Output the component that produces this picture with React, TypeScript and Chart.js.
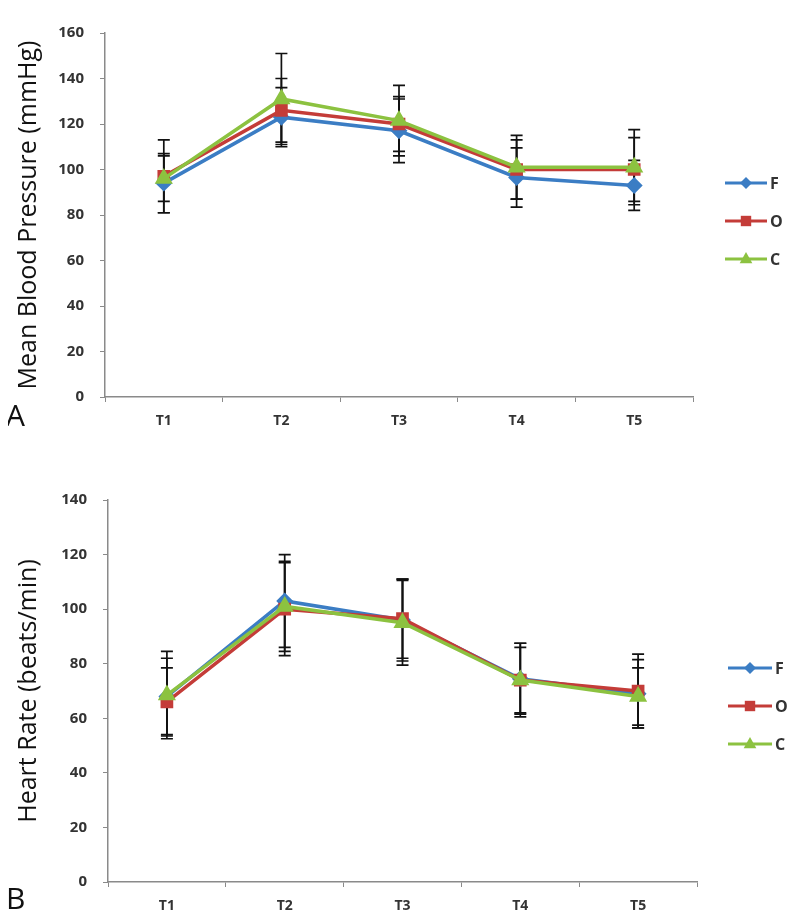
import React, { useEffect, useRef } from 'react';
import { Chart, registerables } from 'chart.js';

Chart.register(...registerables);

// ---------- data ----------
const categories = ['T1', 'T2', 'T3', 'T4', 'T5'];
const seriesNames = ['F', 'O', 'C'];

// Panel A: Mean Blood Pressure (mmHg)
const mbpF = [94, 123, 117, 96.5, 93];
const mbpO = [97, 126, 120, 100, 100];
const mbpC = [96, 131, 121.5, 101, 101];
const mbpFsd = [13, 13, 14, 13, 11];
const mbpOsd = [16, 14, 12, 13, 14];
const mbpCsd = [10, 20, 15.5, 14, 16.5];
const mbpTicks = [0, 20, 40, 60, 80, 100, 120, 140, 160];

// Panel B: Heart Rate (beats/min)
const hrF = [68, 103, 96, 74.5, 69];
const hrO = [66, 100, 96.5, 74, 70];
const hrC = [68.5, 101, 95, 74, 68];
const hrFsd = [14, 17, 15, 13, 12.5];
const hrOsd = [12.5, 17, 14.5, 12, 13.5];
const hrCsd = [16, 16.5, 15.5, 13.5, 10.5];
const hrTicks = [0, 20, 40, 60, 80, 100, 120, 140];

// ---------- styles ----------
const COLORS = ['#3b7dc4', '#c43c38', '#8cc240'];
const POINT_STYLES = ['rectRot', 'rect', 'triangle'];
const POINT_RADII = [6, 6.5, 7];
const AXIS_COLOR = '#8a8a8a';
const TEXT_COLOR = '#333333';
const FONT = "'Open Sans', 'DejaVu Sans', sans-serif";

function drawMarker(ctx: CanvasRenderingContext2D, style: string, x: number, y: number, r: number, color: string) {
  ctx.save();
  ctx.fillStyle = color;
  ctx.beginPath();
  if (style === 'rectRot') {
    ctx.moveTo(x, y - r);
    ctx.lineTo(x + r, y);
    ctx.lineTo(x, y + r);
    ctx.lineTo(x - r, y);
  } else if (style === 'rect') {
    ctx.rect(x - r * 0.8, y - r * 0.8, r * 1.6, r * 1.6);
  } else {
    ctx.moveTo(x, y - r);
    ctx.lineTo(x + r * 0.9, y + r * 0.6);
    ctx.lineTo(x - r * 0.9, y + r * 0.6);
  }
  ctx.closePath();
  ctx.fill();
  ctx.restore();
}

const errorBarPlugin = {
  id: 'errorBars',
  beforeDatasetsDraw(chart: any) {
    const ctx = chart.ctx;
    const yScale = chart.scales.y;
    ctx.save();
    ctx.strokeStyle = '#111111';
    ctx.lineWidth = 1.7;
    chart.data.datasets.forEach((ds: any, i: number) => {
      const meta = chart.getDatasetMeta(i);
      meta.data.forEach((pt: any, j: number) => {
        const v = ds.data[j];
        const e = ds.errors[j];
        const yt = yScale.getPixelForValue(v + e);
        const yb = yScale.getPixelForValue(v - e);
        const x = pt.x;
        ctx.beginPath();
        ctx.moveTo(x, yt);
        ctx.lineTo(x, yb);
        ctx.moveTo(x - 6, yt);
        ctx.lineTo(x + 6, yt);
        ctx.moveTo(x - 6, yb);
        ctx.lineTo(x + 6, yb);
        ctx.stroke();
      });
    });
    ctx.restore();
  },
};

const sideLegendPlugin = {
  id: 'sideLegend',
  afterDraw(chart: any, _args: any, opts: any) {
    const ctx = chart.ctx;
    ctx.save();
    chart.data.datasets.forEach((ds: any, i: number) => {
      const y = opts.y0 + i * opts.gap;
      ctx.strokeStyle = COLORS[i];
      ctx.lineWidth = 3;
      ctx.beginPath();
      ctx.moveTo(opts.x0, y);
      ctx.lineTo(opts.x1, y);
      ctx.stroke();
      drawMarker(ctx, POINT_STYLES[i], (opts.x0 + opts.x1) / 2, y, POINT_RADII[i], COLORS[i]);
      ctx.fillStyle = TEXT_COLOR;
      ctx.font = `bold 16px ${FONT}`;
      ctx.textAlign = 'left';
      ctx.textBaseline = 'middle';
      ctx.fillText(ds.label, opts.x1 + 3, y + 1);
    });
    // panel letter
    ctx.fillStyle = '#111111';
    ctx.font = `30px ${FONT}`;
    ctx.textAlign = 'left';
    ctx.textBaseline = 'middle';
    ctx.fillText(opts.letter, opts.letterX, opts.letterY);
    ctx.restore();
  },
};

function buildConfig(p: {
  F: number[]; O: number[]; C: number[];
  Fsd: number[]; Osd: number[]; Csd: number[];
  yTicks: number[]; title: string;
  yWidth: number; padTop: number; padRight: number; padBottom: number;
  legend: any;
}) {
  const values = [p.F, p.O, p.C];
  const errs = [p.Fsd, p.Osd, p.Csd];
  const datasets = seriesNames.map((name, i) => ({
    label: name,
    data: values[i],
    errors: errs[i],
    borderColor: COLORS[i],
    backgroundColor: COLORS[i],
    pointBackgroundColor: COLORS[i],
    pointBorderColor: COLORS[i],
    pointStyle: POINT_STYLES[i],
    pointRadius: POINT_RADII[i],
    borderWidth: 3.5,
    tension: 0,
    order: 2 - i,
  }));
  return {
    type: 'line',
    data: { labels: categories, datasets },
    options: {
      responsive: true,
      maintainAspectRatio: false,
      animation: false,
      layout: { padding: { left: 0, top: p.padTop, right: p.padRight, bottom: p.padBottom } },
      plugins: {
        legend: { display: false },
        tooltip: { enabled: false },
        sideLegend: p.legend,
      },
      scales: {
        x: {
          offset: true,
          afterFit: (s: any) => { s.height = 32; },
          grid: { offset: true, drawOnChartArea: false, drawTicks: true, tickLength: 5, color: AXIS_COLOR },
          border: { display: true, color: AXIS_COLOR, width: 1.5 },
          ticks: { color: TEXT_COLOR, padding: 11, font: { family: FONT, size: 14, weight: 'bold' } },
        },
        y: {
          min: p.yTicks[0],
          max: p.yTicks[p.yTicks.length - 1],
          afterFit: (s: any) => { s.width = p.yWidth; },
          afterBuildTicks: (s: any) => { s.ticks = p.yTicks.map((v) => ({ value: v })); },
          grid: { drawOnChartArea: false, drawTicks: true, tickLength: 5, color: AXIS_COLOR },
          border: { display: true, color: AXIS_COLOR, width: 1.5 },
          ticks: { color: TEXT_COLOR, padding: 16, font: { family: FONT, size: 15, weight: 'bold' } },
          title: {
            display: true,
            text: p.title,
            color: '#111111',
            padding: { top: 6, bottom: 0 },
            font: { family: FONT, size: 25, weight: 'normal' },
          },
        },
      },
    },
    plugins: [errorBarPlugin, sideLegendPlugin],
  };
}

function Panel({ height, config }: { height: number; config: any }) {
  const ref = useRef<HTMLCanvasElement | null>(null);
  useEffect(() => {
    if (!ref.current) return;
    const chart = new Chart(ref.current, config);
    return () => chart.destroy();
  }, [config]);
  return (
    <div style={{ position: 'relative', width: '100%', height }}>
      <canvas ref={ref} style={{ display: 'block' }} />
    </div>
  );
}

const configA = buildConfig({
  F: mbpF, O: mbpO, C: mbpC, Fsd: mbpFsd, Osd: mbpOsd, Csd: mbpCsd,
  yTicks: mbpTicks, title: 'Mean Blood Pressure (mmHg)',
  yWidth: 97, padTop: 8, padRight: 99, padBottom: 19,
  legend: { x0: 717, x1: 759, y0: 175, gap: 38, letter: 'A', letterX: -2, letterY: 409 },
});

const configB = buildConfig({
  F: hrF, O: hrO, C: hrC, Fsd: hrFsd, Osd: hrOsd, Csd: hrCsd,
  yTicks: hrTicks, title: 'Heart Rate (beats/min)',
  yWidth: 100, padTop: 52, padRight: 95, padBottom: 0,
  legend: { x0: 720, x1: 764, y0: 220, gap: 38, letter: 'B', letterX: -2, letterY: 452 },
});

export default function App() {
  return (
    <div style={{ width: '100%' }}>
      <Panel height={440} config={configA} />
      <Panel height={466} config={configB} />
    </div>
  );
}
